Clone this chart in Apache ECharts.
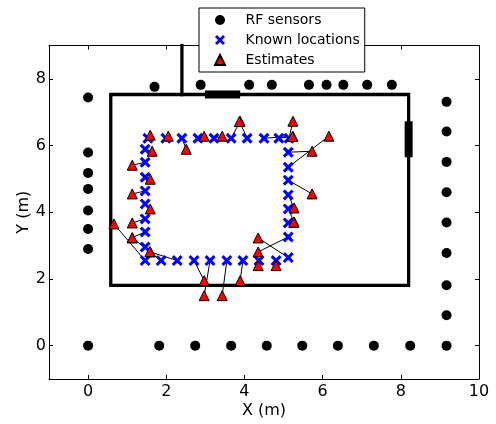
<!DOCTYPE html>
<html><head><meta charset="utf-8">
<script src="https://cdn.jsdelivr.net/npm/echarts@6/dist/echarts.min.js"></script>
<style>html,body{margin:0;padding:0;background:#fff}#c{width:496px;height:424px}</style>
</head><body><div id="c"></div>
<script>
// RF sensors
const sensorX = [0,0,0,0,0,0,0,0,
  1.82,2.74,3.66,4.57,5.48,6.39,7.31,8.24,9.17,
  9.17,9.17,9.17,9.17,9.17,9.17,9.17,9.17,
  1.70,2.88,4.12,4.70,5.65,6.10,6.53,7.14,7.77];
const sensorY = [7.44,5.79,5.18,4.70,4.05,3.50,2.90,0,
  0,0,0,0,0,0,0,0,0,
  7.31,6.42,5.51,4.60,3.69,2.78,1.81,0.91,
  7.76,7.82,7.82,7.82,7.82,7.82,7.82,7.82,7.82];
// Known locations
const knownX = [1.53,1.99,2.40,2.81,3.22,3.66,4.07,4.50,4.88,5.14,
  5.12,5.12,5.12,5.12,5.12,5.12,5.12,5.12,
  4.81,4.37,3.96,3.55,3.12,2.71,2.28,1.87,1.46,
  1.46,1.46,1.46,1.46,1.46,1.46,1.46,1.46];
const knownY = [6.22,6.22,6.22,6.22,6.22,6.22,6.22,6.22,6.22,6.22,
  5.80,5.35,4.96,4.52,4.10,3.68,3.26,2.64,
  2.55,2.55,2.55,2.55,2.55,2.55,2.55,2.55,2.55,
  2.96,3.41,3.80,4.25,4.64,5.05,5.50,5.89];
// Estimates (same order as known locations)
const estX = [1.59,2.05,2.51,2.97,3.43,3.89,3.87,5.24,5.23,5.24,
  5.73,6.16,5.73,5.27,5.27,5.26,4.35,4.35,
  4.81,4.35,3.89,3.43,2.97,2.97,1.59,1.13,0.66,
  1.58,1.13,1.13,1.59,1.13,1.59,1.13,1.64];
const estY = [6.31,6.28,5.89,6.28,6.28,6.73,6.72,6.28,6.27,6.73,
  5.83,6.28,4.55,4.13,3.71,3.70,2.81,3.23,
  2.40,2.40,1.95,1.50,1.50,1.95,2.81,3.23,3.65,
  2.82,3.24,3.68,4.10,4.55,4.99,5.41,5.83];
// Room walls (data units)
const roomX = [0.58,8.2,8.2,0.58,0.58];
const roomY = [1.81,1.81,7.53,7.53,1.81];
const partitionX = [2.40,2.40];
const partitionY = [7.53,9];
const door1X = [2.99,3.89], door1Y = [7.53,7.53];
const door2X = [8.2,8.2], door2Y = [5.65,6.73];

const FONT = 'DejaVu Sans';
const zip = (a,b) => a.map((v,i)=>[v,b[i]]);
const XPATH = 'path://M0,20L20,0L50,30L80,0L100,20L70,50L100,80L80,100L50,70L20,100L0,80L30,50Z';
const TRIPATH = 'path://M50,0L100,100L0,100Z';

function axis(pos, isX, main) {
  const o = {
    type: 'value', position: pos,
    min: -1, max: isX ? 10 : 9,
    minInterval: 2, maxInterval: 2,
    axisLine: {show: true, onZero: false, lineStyle: {color: '#000', width: 1}},
    axisTick: {show: true, inside: true, length: 4, lineStyle: {color: '#000', width: 1}},
    splitLine: {show: false},
    axisLabel: main ? {show: true, showMinLabel: false, showMaxLabel: isX ? true : false,
      fontSize: 16, fontFamily: FONT, color: '#000', margin: isX ? 5 : 3} : {show: false}
  };
  if (main) {
    o.name = isX ? 'X (m)' : 'Y (m)';
    o.nameLocation = 'middle';
    o.nameMoveOverlap = false;
    o.nameGap = isX ? 24 : 17;
    o.nameTextStyle = {fontSize: 16, fontFamily: FONT, color: '#000'};
  }
  return o;
}

const wallStyle = (w, cap) => ({color: '#000', width: w, cap: cap, join: 'miter'});

const chart = echarts.init(document.getElementById('c'), null, {renderer: 'canvas'});
chart.setOption({
  animation: false,
  grid: {left: 49, right: 17, top: 45.5, bottom: 43.3, containLabel: false},
  xAxis: [axis('bottom', true, true), axis('top', true, false)],
  yAxis: [axis('left', false, true), axis('right', false, false)],
  legend: {
    data: ['RF sensors', 'Known locations', 'Estimates'],
    orient: 'vertical', left: 199, top: 8,
    padding: [2, 5, 2, 15], itemGap: 0, itemWidth: 41, itemHeight: 10,
    symbolKeepAspect: true,
    backgroundColor: '#fff', borderColor: '#000', borderWidth: 1, borderRadius: 0,
    selectedMode: false,
    textStyle: {fontSize: 14, fontFamily: FONT, color: '#000', lineHeight: 20}
  },
  series: [
    {type: 'line', data: zip(roomX, roomY), symbol: 'none', z: 1, lineStyle: wallStyle(3.3, 'square'), silent: true},
    {type: 'line', data: zip(partitionX, partitionY), symbol: 'none', z: 1, lineStyle: wallStyle(3.3, 'square'), silent: true},
    {type: 'line', data: zip(door1X, door1Y), symbol: 'none', z: 1, lineStyle: wallStyle(8, 'butt'), silent: true},
    {type: 'line', data: zip(door2X, door2Y), symbol: 'none', z: 1, lineStyle: wallStyle(8, 'butt'), silent: true},
    {type: 'lines', coordinateSystem: 'cartesian2d', z: 2, silent: true,
      lineStyle: {color: '#000', width: 1, opacity: 1},
      data: knownX.map((x, i) => ({coords: [[x, knownY[i]], [estX[i], estY[i]]]}))},
    {name: 'RF sensors', type: 'scatter', z: 3, symbol: 'circle', symbolSize: 10,
      itemStyle: {color: '#000', opacity: 1}, data: zip(sensorX, sensorY)},
    {name: 'Known locations', type: 'scatter', z: 3, symbol: XPATH, symbolSize: 11,
      itemStyle: {color: '#0000ff', opacity: 1}, data: zip(knownX, knownY)},
    {name: 'Estimates', type: 'scatter', z: 4, symbol: TRIPATH, symbolSize: 10, symbolKeepAspect: true,
      itemStyle: {color: '#ff0000', borderColor: '#000', borderWidth: 1, opacity: 1}, data: zip(estX, estY)}
  ]
});
</script></body></html>
